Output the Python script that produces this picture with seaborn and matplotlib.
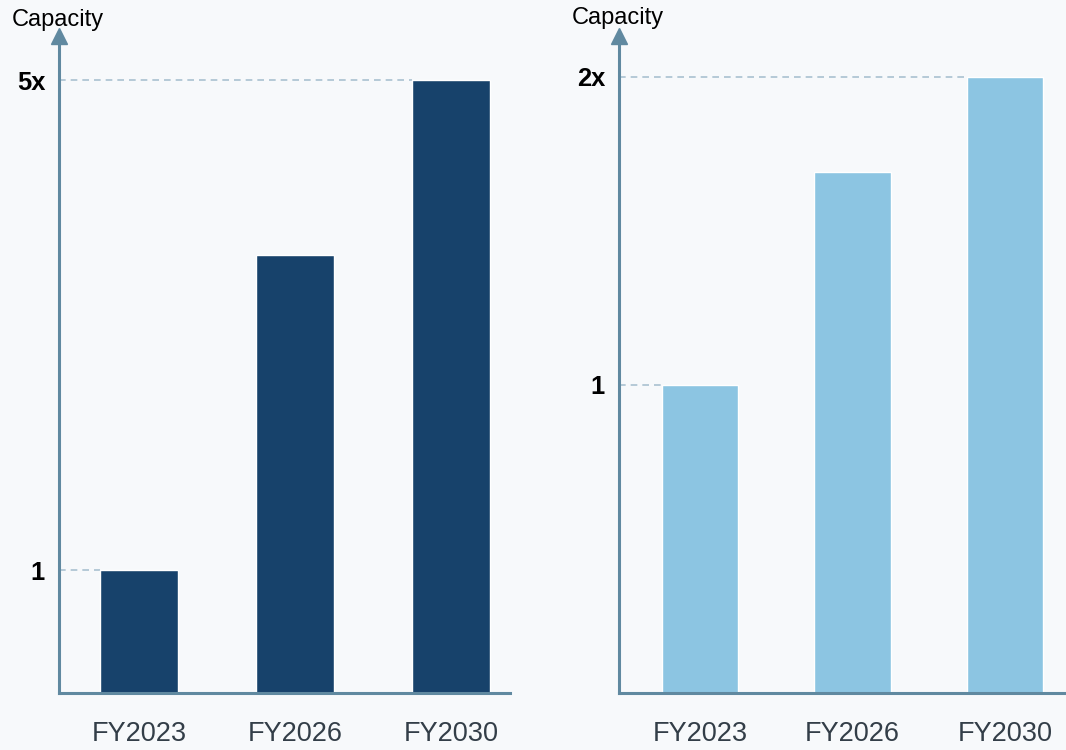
import matplotlib
matplotlib.use("Agg")
import matplotlib.pyplot as plt
import matplotlib.transforms as mtransforms
import seaborn as sns
import pandas as pd

# Data
years = ["FY2023", "FY2026", "FY2030"]
left_values = [1.0, 3.57, 5.0]
right_values = [1.0, 1.69, 2.0]
left_ticks = [1.0, 5.0]
left_tick_labels = ["1", "5x"]
right_ticks = [1.0, 2.0]
right_tick_labels = ["1", "2x"]
axis_title = "Capacity"

BG = "#f7f9fb"
AXIS = "#6089a0"
DASH = "#a9c1d0"
DARK = "#17426b"
LIGHT = "#8cc5e2"
XTXT = "#333e48"
BAR_W = 0.5

sns.set_theme(style="white")
plt.rcParams["font.family"] = ["Liberation Sans", "DejaVu Sans"]

W, H = 1066, 750
fig = plt.figure(figsize=(W / 100, H / 100), dpi=100, facecolor=BG)

def px_axes(x0, x1, ytop, ybot):
    return fig.add_axes([x0 / W, 1 - ybot / H, (x1 - x0) / W, (ybot - ytop) / H])

ax1 = px_axes(59, 510, 36, 693)
ax2 = px_axes(619, 1066, 36, 693)

def draw(ax, values, color, ticks, labels, ylim_top, xlim):
    ax.set_facecolor(BG)
    df = pd.DataFrame({"year": years, "value": values})
    sns.barplot(data=df, x="year", y="value", color=color, width=BAR_W,
                saturation=1, ax=ax, zorder=2)
    for t in ticks:
        idx = values.index(t)
        ax.hlines(t, xlim[0], idx - BAR_W / 2, color=DASH, lw=1.2,
                  linestyles=(0, (4, 3)), zorder=1)
    ax.set_xlim(*xlim)
    ax.set_ylim(0, ylim_top)
    for s in ["top", "right"]:
        ax.spines[s].set_visible(False)
    for s in ["left", "bottom"]:
        ax.spines[s].set_color(AXIS)
        ax.spines[s].set_linewidth(2.2)
        ax.spines[s].set_zorder(3)
    ax.plot(0, 1, marker="^", ms=12, color=AXIS, transform=ax.transAxes,
            clip_on=False, zorder=4)
    ax.set_yticks(ticks)
    ax.set_yticklabels(labels, fontsize=18.4, fontweight="bold", color="black")
    ax.tick_params(axis="y", length=0, pad=10)
    ax.tick_params(axis="x", length=0, pad=20, labelsize=19.5, labelcolor=XTXT)
    ax.set_xlabel("")
    ax.set_ylabel("")

draw(ax1, left_values, DARK, left_ticks, left_tick_labels, 5.36, (-0.513, 2.378))
draw(ax2, right_values, LIGHT, right_ticks, right_tick_labels, 2.133, (-0.531, 2.4))

fig.text(12 / W, 1 - 20 / H, axis_title, fontsize=17, color="black", va="center", ha="left")
fig.text(572 / W, 1 - 18 / H, axis_title, fontsize=17, color="black", va="center", ha="left")

fig.savefig("out.png", dpi=100, facecolor=BG)
